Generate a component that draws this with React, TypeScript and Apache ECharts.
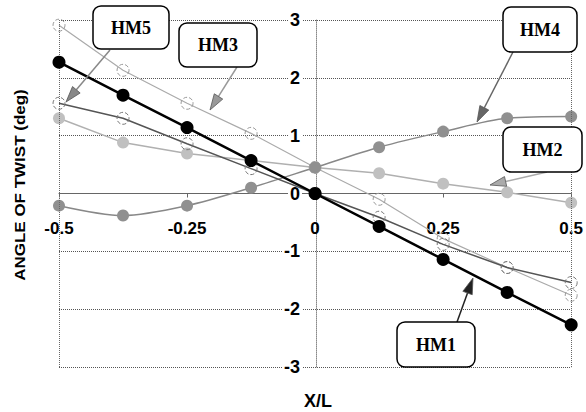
import React, { useEffect, useRef } from "react";
import * as echarts from "echarts";

const xValues = [-0.5, -0.375, -0.25, -0.125, 0, 0.125, 0.25, 0.375, 0.5];
const hm1 = [2.27, 1.7, 1.14, 0.57, 0, -0.57, -1.14, -1.71, -2.27];
const hm2 = [1.3, 0.88, 0.69, 0.57, 0.45, 0.35, 0.17, 0.02, -0.16];
const hm3 = [2.91, 2.13, 1.56, 1.04, 0.45, -0.1, -0.78, -1.28, -1.76];
const hm4 = [-0.21, -0.38, -0.21, 0.1, 0.45, 0.8, 1.07, 1.3, 1.33];
const hm5 = [1.56, 1.3, 0.86, 0.43, 0, -0.41, -0.88, -1.28, -1.54];
const xTicks = { min: -0.5, max: 0.5, interval: 0.25 };
const yTicks = { min: -3, max: 3, interval: 1 };

const pairs = (ys: number[]) => xValues.map((x, i) => [x, ys[i]]);

type Label = { text: string; box: [number, number, number, number]; from: [number, number]; to: [number, number]; color: string };
const labels: Label[] = [
  { text: "HM5", box: [93, 6, 76, 43], from: [110, 50], to: [66, 102], color: "#888" },
  { text: "HM3", box: [179, 23, 78, 44], from: [237, 67], to: [210, 110], color: "#999" },
  { text: "HM4", box: [503, 7, 74, 45], from: [513, 52], to: [477, 122], color: "#666" },
  { text: "HM2", box: [503, 127, 79, 45], from: [547, 172], to: [490, 185], color: "#aaa" },
  { text: "HM1", box: [397, 322, 78, 45], from: [457, 322], to: [473, 278], color: "#222" },
];

function annotation(l: Label): any[] {
  const [x0, y0] = l.from;
  const [x1, y1] = l.to;
  const dx = x1 - x0, dy = y1 - y0;
  const len = Math.hypot(dx, dy);
  const ux = dx / len, uy = dy / len;
  const h = 16, w = 5;
  const bx = x1 - ux * h, by = y1 - uy * h;
  const px = -uy, py = ux;
  const [bxX, bxY, bw, bh] = l.box;
  return [
    { type: "line", z: 100, shape: { x1: x0, y1: y0, x2: bx, y2: by }, style: { stroke: l.color, lineWidth: 1.5 } },
    {
      type: "polygon", z: 100,
      shape: { points: [[x1, y1], [bx + px * w, by + py * w], [bx - px * w, by - py * w]] },
      style: { fill: l.color, stroke: "#555", lineWidth: 0.8 },
    },
    { type: "rect", z: 101, shape: { x: bxX, y: bxY, width: bw, height: bh, r: 8 }, style: { fill: "#fff", stroke: "#000", lineWidth: 1.5 } },
    {
      type: "text", z: 102, x: bxX + bw / 2, y: bxY + bh / 2,
      style: { text: l.text, fill: "#000", font: "bold 18px 'Liberation Serif', 'Times New Roman', serif", align: "center", verticalAlign: "middle" },
    },
  ];
}

const W = 586, H = 412;
const G = { left: 59, right: 13, top: 20, bottom: 45 };

export default function App() {
  const ref = useRef<HTMLDivElement>(null);
  useEffect(() => {
    if (!ref.current) return;
    const chart = echarts.init(ref.current, null, { renderer: "svg" });
    const font = "'Liberation Sans', Arial, Helvetica, sans-serif";
    const openCircle = (border: string) => ({ color: "rgba(255,255,255,0)", borderColor: border, borderWidth: 1, borderType: "dashed" });
    const gw = W - G.left - G.right;
    const gh = H - G.top - G.bottom;
    // shift the axes so they cross at the origin (x=0, y=0 are at the grid's centre)
    const xOff = -gh * (0 - yTicks.min) / (yTicks.max - yTicks.min);
    const yOff = -gw * (0 - xTicks.min) / (xTicks.max - xTicks.min);
    chart.setOption({
      animation: false,
      backgroundColor: "#fff",
      grid: G,
      xAxis: {
        type: "value", ...xTicks, offset: xOff,
        axisLine: { onZero: false, lineStyle: { color: "#666", width: 1 } },
        axisTick: { show: true, length: 4, lineStyle: { color: "#666" } },
        axisLabel: { fontSize: 17, fontWeight: "bold", color: "#000", fontFamily: font, margin: 26, formatter: (v: number) => String(v) },
        splitLine: { show: false },
      },
      yAxis: {
        type: "value", ...yTicks, offset: yOff,
        axisLine: { onZero: false, lineStyle: { color: "#888", type: "dotted" } },
        axisTick: { show: false },
        axisLabel: { fontSize: 18, fontWeight: "bold", color: "#000", fontFamily: font, margin: 14, backgroundColor: "#fff", padding: [0, 2] },
        splitLine: { show: true, lineStyle: { color: "#555", type: "dotted", width: 1 } },
      },
      series: [
        {
          name: "HM3", type: "line", data: pairs(hm3), symbol: "circle", symbolSize: 12, z: 2,
          lineStyle: { color: "#aaa", width: 1.2 }, itemStyle: openCircle("#999"),
          markLine: {
            silent: true, symbol: "none", label: { show: false },
            lineStyle: { color: "#666", type: "dotted", width: 1 },
            data: [{ xAxis: xTicks.min }, { xAxis: xTicks.max }],
          },
        },
        {
          name: "HM2", type: "line", data: pairs(hm2), symbol: "circle", symbolSize: 12, z: 3,
          lineStyle: { color: "#b0b0b0", width: 1.5 }, itemStyle: { color: "#c0c0c0" },
        },
        {
          name: "HM4", type: "line", data: pairs(hm4), symbol: "circle", symbolSize: 12, z: 4, smooth: 0.3,
          lineStyle: { color: "#888", width: 1.5 }, itemStyle: { color: "#909090" },
        },
        {
          name: "HM5", type: "line", data: pairs(hm5), symbol: "circle", symbolSize: 12, z: 5,
          lineStyle: { color: "#555", width: 1.5 }, itemStyle: openCircle("#777"),
        },
        {
          name: "HM1", type: "line", data: pairs(hm1), symbol: "circle", symbolSize: 13, z: 6,
          lineStyle: { color: "#000", width: 2.5 }, itemStyle: { color: "#000" },
        },
      ],
      graphic: [
        ...labels.flatMap(annotation),
        {
          type: "text", x: 20, y: 185, rotation: Math.PI / 2, scaleY: 0.83,
          style: { text: "ANGLE OF TWIST (deg)", fill: "#000", font: `bold 17px ${font}`, align: "center", verticalAlign: "middle" },
        },
        {
          type: "text", x: 318, y: 401,
          style: { text: "X/L", fill: "#000", font: `bold 18px ${font}`, align: "center", verticalAlign: "middle" },
        },
      ],
    });
    return () => chart.dispose();
  }, []);
  return <div ref={ref} style={{ position: "fixed", left: 0, top: 0, width: W, height: H }} />;
}
